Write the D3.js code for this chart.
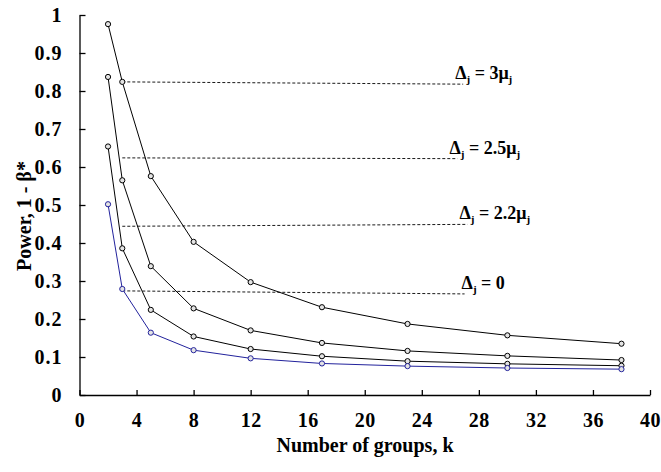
<!DOCTYPE html>
<html>
<head>
<meta charset="utf-8">
<script src="https://cdn.jsdelivr.net/npm/d3@7"></script>
<style>
  body { margin: 0; background: #fff; }
</style>
</head>
<body>
<div></div>
<script>
// number of groups
const groups = [2, 3, 5, 8, 12, 17, 23, 30, 38]

// power for each effect size
const power3 = [0.976, 0.824, 0.576, 0.403, 0.297, 0.231, 0.187, 0.157, 0.135]
const power25 = [0.837, 0.565, 0.339, 0.228, 0.170, 0.137, 0.116, 0.103, 0.092]
const power22 = [0.654, 0.386, 0.224, 0.154, 0.121, 0.102, 0.089, 0.082, 0.077]
const power0 = [0.502, 0.279, 0.164, 0.118, 0.0965, 0.083, 0.076, 0.071, 0.068]

// leader lines: [k start, value start, k end, value end]
const leaders = [
    [3, 0.824, 26.9, 0.818],
    [3, 0.624, 26.5, 0.622],
    [3, 0.444, 27.2, 0.449],
    [3, 0.274, 27.0, 0.266]
]
const labelCoef = ["3", "2.5", "2.2", null]

const xTicks = [0, 4, 8, 12, 16, 20, 24, 28, 32, 36, 40]
const yTicks = [0, 0.1, 0.2, 0.3, 0.4, 0.5, 0.6, 0.7, 0.8, 0.9, 1]

const w = 661
const h = 472
const serif = "'Liberation Serif', 'Times New Roman', serif"

const svg = d3.select("div").append("svg")
    .attr("width", w)
    .attr("height", h)
    .attr("font-family", serif)
    .attr("font-weight", "bold")

const x = d3.scaleLinear().domain([0, 40]).range([79.5, 650])
const y = d3.scaleLinear().domain([0, 1]).range([395, 15])

const xAxis = d3.axisBottom(x)
    .tickValues(xTicks)
    .tickSizeInner(-5)
    .tickSizeOuter(0)
    .tickPadding(18)

const gx = svg.append("g")
    .attr("transform", `translate(0,${y(0)})`)
    .call(xAxis)
gx.attr("font-family", serif).attr("font-size", 20)
gx.selectAll("text").attr("fill", "#000").attr("letter-spacing", 0.5)
gx.selectAll("line, path").attr("stroke", "#000").attr("stroke-width", 1.3)

const yAxis = d3.axisLeft(y)
    .tickValues(yTicks)
    .tickFormat(d => d === 0 ? "0" : d === 1 ? "1" : d3.format(".1f")(d))
    .tickSizeInner(-6)
    .tickSizeOuter(0)
    .tickPadding(17)

const gy = svg.append("g")
    .attr("transform", `translate(${x(0)},0)`)
    .call(yAxis)
gy.attr("font-family", serif).attr("font-size", 20)
gy.selectAll("text").attr("fill", "#000").attr("letter-spacing", 1)
gy.selectAll("line, path").attr("stroke", "#000").attr("stroke-width", 1.3)

// axis titles
svg.append("text")
    .attr("x", 365)
    .attr("y", 452)
    .attr("text-anchor", "middle")
    .attr("font-size", 20)
    .text("Number of groups, k")

svg.append("text")
    .attr("transform", `translate(31,216) rotate(-90)`)
    .attr("text-anchor", "middle")
    .attr("font-size", 20)
    .text("Power, 1 - β*")

// dashed leader lines
svg.selectAll(".leader")
    .data(leaders)
    .enter()
    .append("line")
    .attr("class", "leader")
    .attr("x1", d => x(d[0]))
    .attr("y1", d => y(d[1]))
    .attr("x2", d => x(d[2]))
    .attr("y2", d => y(d[3]))
    .attr("stroke", "#000")
    .attr("stroke-width", 0.9)
    .attr("stroke-dasharray", "3,2")

// labels
leaders.forEach((d, i) => {
    const t = svg.append("text")
        .attr("x", x(d[2]) - 8 + (labelCoef[i] ? 0 : 5))
        .attr("y", y(d[3]) - 5)
        .attr("font-size", 18)
    t.append("tspan").text("Δ")
    t.append("tspan").attr("font-size", 11).attr("dy", 4).text("j")
    if (labelCoef[i]) {
        t.append("tspan").attr("dy", -4).text(" = " + labelCoef[i] + "μ")
        t.append("tspan").attr("font-size", 11).attr("dy", 4).text("j")
    } else {
        t.append("tspan").attr("dy", -4).text(" = 0")
    }
})

const series = [
    { values: power3, color: "#000" },
    { values: power25, color: "#000" },
    { values: power22, color: "#000" },
    { values: power0, color: "#22229c" }
]

const line = d3.line()
    .x((d, i) => x(groups[i]))
    .y(d => y(d))

series.forEach(s => {
    svg.append("path")
        .datum(s.values)
        .attr("d", line)
        .attr("fill", "none")
        .attr("stroke", s.color)
        .attr("stroke-width", 1)

    svg.selectAll(null)
        .data(s.values)
        .enter()
        .append("circle")
        .attr("cx", (d, i) => x(groups[i]))
        .attr("cy", d => y(d))
        .attr("r", 2.6)
        .attr("fill", "#e4e4e4")
        .attr("stroke", s.color)
        .attr("stroke-width", 1)
})
</script>
</body>
</html>
